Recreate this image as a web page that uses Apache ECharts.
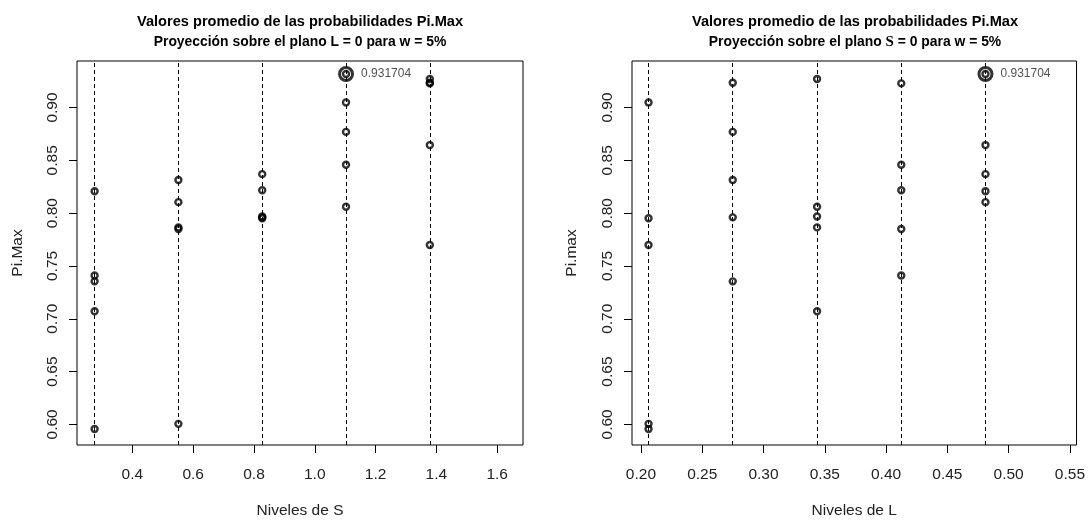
<!DOCTYPE html>
<html><head><meta charset="utf-8">
<script src="https://cdn.jsdelivr.net/npm/echarts@6/dist/echarts.min.js"></script>
<style>html,body{margin:0;padding:0;background:#fff}#c{width:1088px;height:524px}</style>
</head><body><div id="c"></div>
<script>
// Levels
const sLevels = [0.2757, 0.5514, 0.8271, 1.1028, 1.3785];
const lLevels = [0.2062, 0.2749, 0.3437, 0.4124, 0.4811];
// Pi.Max values for each S level, listed by L level (L1..L5)
const pimaxS1 = [0.5957, 0.7354, 0.7071, 0.7410, 0.8207];
const pimaxS2 = [0.6005, 0.8313, 0.7865, 0.7850, 0.8104];
const pimaxS3 = [0.7952, 0.7960, 0.7968, 0.8216, 0.8369];
const pimaxS4 = [0.9048, 0.8769, 0.8061, 0.8458, 0.931704];
const pimaxS5 = [0.7698, 0.9234, 0.9270, 0.9228, 0.8644];
// Tick labels
const xTicksS = [0.4, 0.6, 0.8, 1.0, 1.2, 1.4, 1.6];
const xTicksL = [0.20, 0.25, 0.30, 0.35, 0.40, 0.45, 0.50, 0.55];
const yTicks = [0.60, 0.65, 0.70, 0.75, 0.80, 0.85, 0.90];

const rows = [pimaxS1, pimaxS2, pimaxS3, pimaxS4, pimaxS5];
const ptsS = [], ptsL = [];
let maxV = -Infinity, maxI = 0, maxJ = 0;
rows.forEach((r, i) => r.forEach((v, j) => {
  ptsS.push([sLevels[i], v]);
  ptsL.push([lLevels[j], v]);
  if (v > maxV) { maxV = v; maxI = i; maxJ = j; }
}));

const FF = '"Liberation Sans", Arial, sans-serif';
const TXT = '#222';

function xAxisDef(idx, min, max, ticks, dec, name) {
  return {
    type: 'value', gridIndex: idx, min: min, max: max,
    name: name, nameLocation: 'middle', nameGap: 58,
    nameTextStyle: {fontSize: 15.5, fontFamily: FF, color: TXT},
    axisLine: {show: false, onZero: false},
    axisTick: {show: true, customValues: ticks, length: 8, inside: false, lineStyle: {color: '#000', width: 1}},
    axisLabel: {customValues: ticks, formatter: v => v.toFixed(dec), margin: 22, fontSize: 15.5, fontFamily: FF, color: TXT},
    splitLine: {show: false}
  };
}
function yAxisDef(idx, name, gap) {
  return {
    type: 'value', gridIndex: idx, min: 0.5805, max: 0.944,
    name: name, nameLocation: 'middle', nameGap: gap,
    nameTextStyle: {fontSize: 15.5, fontFamily: FF, color: TXT},
    axisLine: {show: false, onZero: false},
    axisTick: {show: true, customValues: yTicks, length: 8, inside: false, lineStyle: {color: '#000', width: 1}},
    axisLabel: {customValues: yTicks, rotate: 90, formatter: v => v.toFixed(2), margin: 16, fontSize: 15.5, fontFamily: FF, color: TXT},
    splitLine: {show: false}
  };
}
function vlines(idx, levels) {
  return {
    type: 'scatter', xAxisIndex: idx, yAxisIndex: idx, data: [], z: 1, silent: true,
    markLine: {
      silent: true, symbol: ['none', 'none'], animation: false, precision: 6,
      label: {show: false},
      lineStyle: {color: '#000', width: 1, type: [4, 3]},
      data: levels.map(v => ({xAxis: v}))
    }
  };
}
function pts(idx, data) {
  return {
    type: 'scatter', xAxisIndex: idx, yAxisIndex: idx, data: data, z: 3,
    symbol: 'circle', symbolSize: 6,
    itemStyle: {color: 'rgba(0,0,0,0)', borderColor: '#000', borderWidth: 2.4}
  };
}
function maxPt(idx, point) {
  return {
    type: 'scatter', xAxisIndex: idx, yAxisIndex: idx, data: [point], z: 4,
    symbol: 'circle', symbolSize: 13,
    itemStyle: {color: 'rgba(0,0,0,0)', borderColor: '#000', borderWidth: 3},
    label: {show: true, position: 'right', distance: 7, formatter: p => String(p.value[1]), fontSize: 12, fontFamily: FF, color: TXT}
  };
}
const titleStyle = {fontSize: 14.6, fontWeight: 'bold', fontFamily: FF, color: '#000'};
const subStyle = {fontSize: 13.9, fontWeight: 'bold', fontFamily: FF, color: '#000',
  rich: {s: {fontSize: 15, fontWeight: 'bold', fontFamily: '"Liberation Serif", "DejaVu Serif", serif', color: '#000'}}};

const chart = echarts.init(document.getElementById('c'));
chart.setOption({
  animation: false,
  backgroundColor: '#fff',
  title: [
    {text: 'Valores promedio de las probabilidades Pi.Max', left: 300, top: 14, textAlign: 'center', padding: 0, textStyle: titleStyle},
    {text: 'Proyección sobre el plano L = 0 para w = 5%', left: 300, top: 35, textAlign: 'center', padding: 0, textStyle: subStyle},
    {text: 'Valores promedio de las probabilidades Pi.Max', left: 855, top: 14, textAlign: 'center', padding: 0, textStyle: titleStyle},
    {text: 'Proyección sobre el plano {s|S} = 0 para w = 5%', left: 855, top: 35, textAlign: 'center', padding: 0, textStyle: subStyle}
  ],
  grid: [
    {left: 77, top: 61, width: 446, height: 390, show: true, borderColor: '#000', borderWidth: 1, backgroundColor: 'rgba(0,0,0,0)'},
    {left: 632, top: 61, width: 446, height: 390, show: true, borderColor: '#000', borderWidth: 1, backgroundColor: 'rgba(0,0,0,0)'}
  ],
  xAxis: [
    xAxisDef(0, 0.2178, 1.685, xTicksS, 1, 'Niveles de S'),
    xAxisDef(1, 0.1927, 0.5554, xTicksL, 2, 'Niveles de L')
  ],
  yAxis: [
    yAxisDef(0, 'Pi.Max', 51),
    yAxisDef(1, 'Pi.max', 52)
  ],
  series: [
    vlines(0, sLevels),
    vlines(1, lLevels),
    pts(0, ptsS),
    pts(1, ptsL),
    maxPt(0, [sLevels[maxI], maxV]),
    maxPt(1, [lLevels[maxJ], maxV])
  ]
});
</script>
</body></html>
